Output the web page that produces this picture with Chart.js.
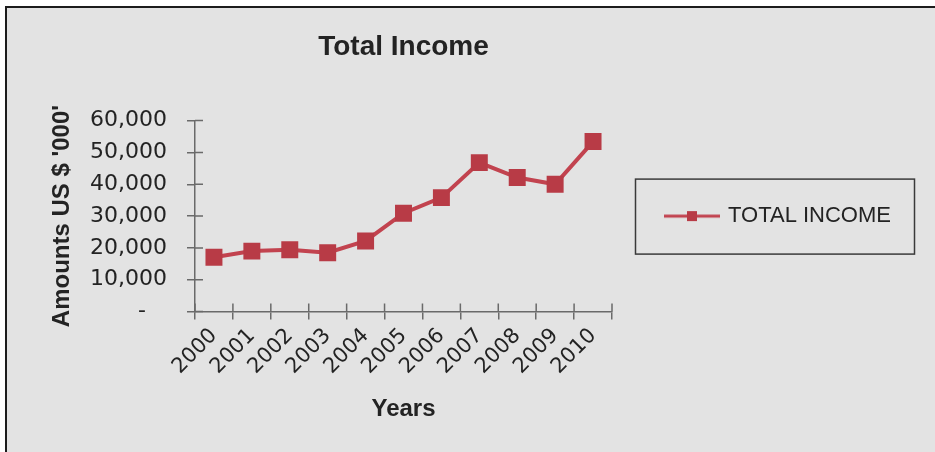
<!DOCTYPE html>
<html>
<head>
<meta charset="utf-8">
<script src="https://cdn.jsdelivr.net/npm/chart.js@4.4.1/dist/chart.umd.min.js"></script>
<style>
  html, body { margin: 0; padding: 0; background: #ffffff; }
  #wrap { position: relative; width: 935px; height: 452px; overflow: hidden; }
  /* grey panel with the dark frame on top and left, as in the scan */
  #frame { position: absolute; left: 5px; top: 6px; right: 0; bottom: 0;
           background: #e3e3e3; border-top: 2px solid #1c1c1c; border-left: 2px solid #1c1c1c; }
  #chart { position: absolute; left: 0; top: 0; }
</style>
</head>
<body>
<div id="wrap">
  <div id="frame"></div>
  <canvas id="chart" width="935" height="452"></canvas>
</div>
<script>
// data (US $ '000')
const years = ['2000', '2001', '2002', '2003', '2004', '2005', '2006', '2007', '2008', '2009', '2010'];
const totalIncome = [17100, 19000, 19400, 18500, 22200, 30900, 35800, 46800, 42100, 40000, 53400];
const yTickValues = [0, 10000, 20000, 30000, 40000, 50000, 60000];
const seriesName = 'TOTAL INCOME';

const lineColor = '#c2434f';
const markColor = '#b83b46';
const axisColor = '#6a6a6a';
const textColor = '#232323';
const fontFamily = "'Liberation Sans', Arial, sans-serif";
const tickFamily = "'DejaVu Sans', 'Liberation Sans', sans-serif"; // wide digits like the scan

Chart.defaults.font.family = fontFamily;
Chart.defaults.color = textColor;

// legend sample: short line with a small square in the middle
const legendSample = document.createElement('canvas');
legendSample.width = 56;
legendSample.height = 14;
(function () {
    const c = legendSample.getContext('2d');
    c.strokeStyle = lineColor;
    c.lineWidth = 3;
    c.beginPath();
    c.moveTo(0, 7);
    c.lineTo(56, 7);
    c.stroke();
    c.fillStyle = markColor;
    c.fillRect(23, 2, 10, 10);
})();

// tick marks that cross the axes (chart.js only draws the outer half)
const crossTicks = {
    id: 'crossTicks',
    beforeDatasetsDraw(chart) {
        const { ctx, chartArea: { left, bottom }, scales: { x, y } } = chart;
        const len = 8;
        ctx.save();
        ctx.strokeStyle = axisColor;
        ctx.lineWidth = 1.5;
        ctx.beginPath();
        yTickValues.forEach(v => {
            const py = y.getPixelForValue(v);
            ctx.moveTo(left, py);
            ctx.lineTo(left + len, py);
        });
        const w = x.getPixelForValue(1) - x.getPixelForValue(0);
        const x0 = x.getPixelForValue(0) - w / 2;
        for (let i = 0; i <= years.length; i++) {
            ctx.moveTo(x0 + i * w, bottom);
            ctx.lineTo(x0 + i * w, bottom - len);
        }
        ctx.stroke();
        ctx.restore();
    }
}

// legend width + framed box round the legend entry
const legendBox = {
    id: 'legendBox',
    beforeInit(chart) {
        const fitValue = chart.legend.fit;
        chart.legend.fit = function fit() {
            fitValue.bind(chart.legend)();
            this.width = 303;
        }
    },
    afterDraw(chart) {
        const lg = chart.legend;
        const hb = lg.legendHitBoxes[0];
        if (!hb) return;
        const cy = hb.top + hb.height / 2;
        const { ctx } = chart;
        ctx.save();
        ctx.strokeStyle = '#3a3a3a';
        ctx.lineWidth = 1.5;
        ctx.strokeRect(lg.left + 23.5, cy - 37, lg.right - lg.left - 24, 75);
        ctx.restore();
    }
}

const config = {
    type: 'line',
    data: {
        labels: years,
        datasets: [{
            label: seriesName,
            data: totalIncome,
            borderColor: lineColor,
            borderWidth: 4,
            backgroundColor: markColor,
            pointStyle: 'rect',
            pointRadius: 12,
            pointBackgroundColor: markColor,
            pointBorderColor: markColor,
            pointBorderWidth: 0,
            tension: 0
        }]
    },
    options: {
        responsive: false,
        animation: false,
        layout: {
            padding: { top: 20, left: 40, right: 20, bottom: 24 }
        },
        scales: {
            x: {
                offset: true,
                grid: { offset: true, drawOnChartArea: false, tickLength: 8, color: axisColor, lineWidth: 1.5 },
                border: { color: axisColor, width: 1.5 },
                ticks: { autoSkip: false, minRotation: 45, maxRotation: 45, padding: 4, color: textColor, font: { family: tickFamily, size: 21 } },
                title: { display: true, text: 'Years', color: textColor, font: { size: 24, weight: 'bold' }, padding: { top: 12, bottom: 4 } }
            },
            y: {
                min: 0,
                max: 60000,
                afterBuildTicks: (scale) => { scale.ticks = yTickValues.map(v => ({ value: v })); },
                // chart.js reserves 2x tick padding; pin the axis width instead
                afterFit: (scale) => { scale.width = 155; },
                grid: { drawOnChartArea: false, tickLength: 8, color: axisColor, lineWidth: 1.5 },
                border: { color: axisColor, width: 1.5 },
                ticks: {
                    padding: 20,
                    color: textColor,
                    font: { family: tickFamily, size: 22 },
                    callback: (v) => v === 0 ? '-   ' : v.toLocaleString('en-US')
                },
                title: { display: true, text: "Amounts US $ '000'", color: textColor, font: { size: 24, weight: 'bold' }, padding: { top: 8, bottom: 13 } }
            }
        },
        plugins: {
            title: {
                display: true,
                fullSize: false, // centred over the plot, not the whole canvas
                text: 'Total Income',
                color: textColor,
                font: { size: 28, weight: 'bold' },
                padding: { top: 10, bottom: 57 }
            },
            legend: {
                position: 'right',
                fullSize: false,
                labels: {
                    usePointStyle: true,
                    pointStyle: legendSample,
                    pointStyleWidth: 50,
                    padding: 55,
                    color: textColor,
                    font: { size: 22 }
                }
            },
            tooltip: { enabled: false }
        }
    },
    plugins: [crossTicks, legendBox]
}
var chart = document.getElementById('chart');
var myChart = new Chart(chart, config);
</script>
</body>
</html>
